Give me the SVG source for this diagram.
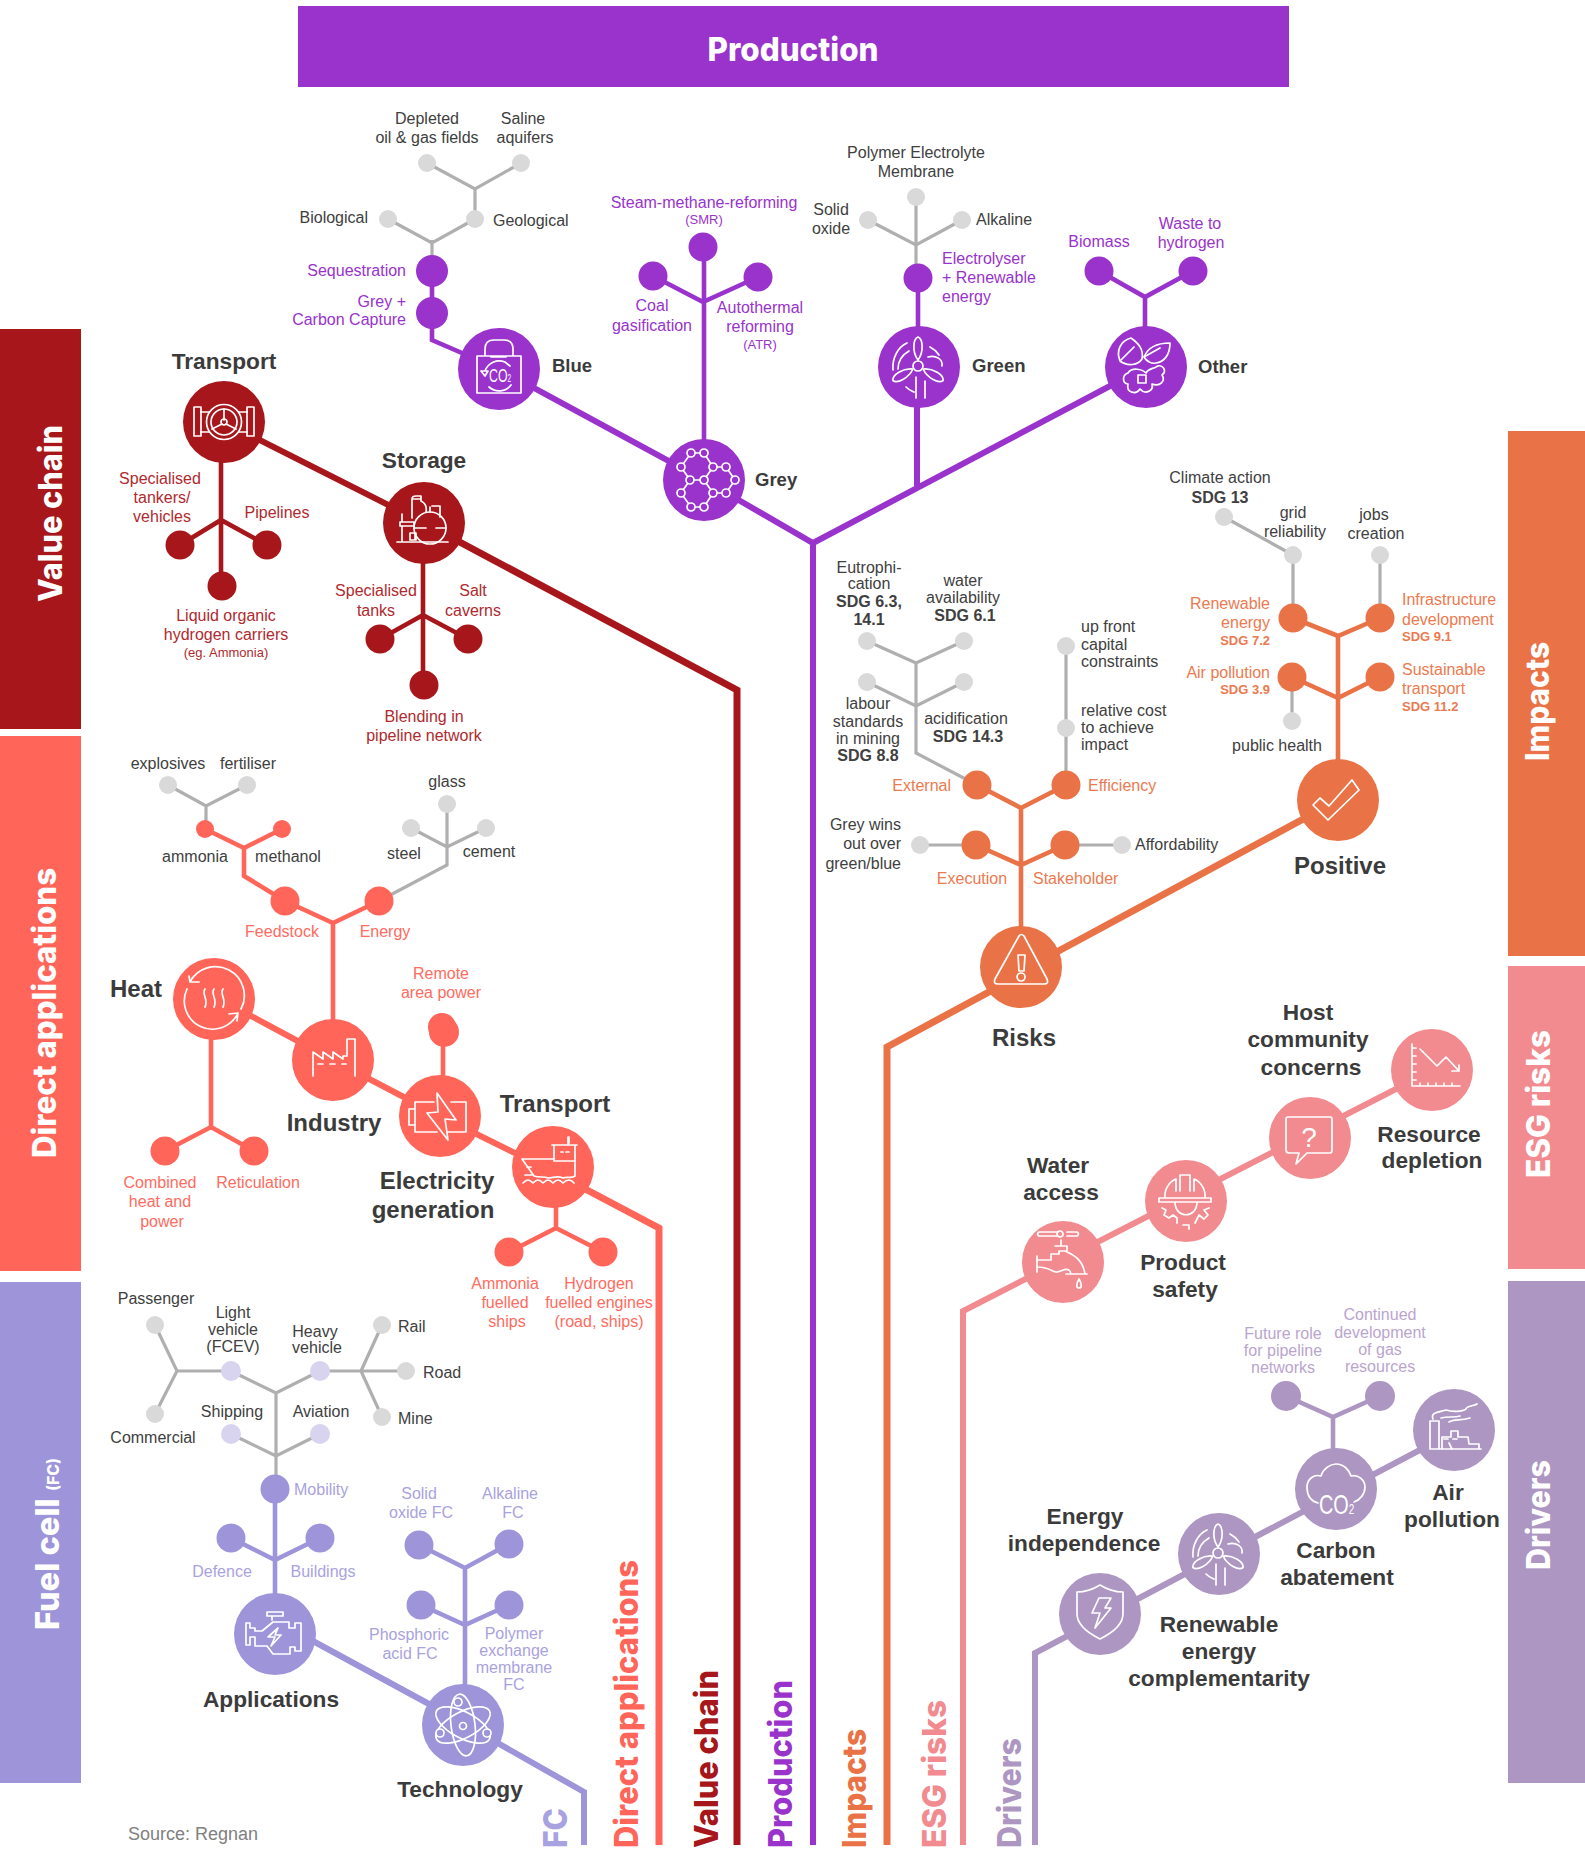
<svg xmlns="http://www.w3.org/2000/svg" width="1585" height="1850" viewBox="0 0 1585 1850">
<style>
text{font-family:"Liberation Sans",Arial,sans-serif;font-size:16px;fill:#404040}
.m{text-anchor:middle}.e{text-anchor:end}
.h{font-size:22.7px;font-weight:700;fill:#3b3b3b}
.h3{font-size:24px;font-weight:700;fill:#3b3b3b}
.h2{font-size:18.5px;font-weight:700;fill:#3b3b3b}
.b{font-weight:700}
.s{font-size:13px}
.d{font-family:Inter,"Open Sans",sans-serif;font-weight:800;font-size:33px}
.w{fill:#fff}
.tP{fill:#9933cc}.tV{fill:#b02a2e}.tD{fill:#ff6b60}.tF{fill:#a9a2e0}.tI{fill:#ec7a50}.tR{fill:#b9a5ce}.tS{fill:#808080}
.fP{fill:#9933cc}.fV{fill:#a6161a}.fD{fill:#ff6559}.fF{fill:#9d94d9}.fI{fill:#e97347}.fE{fill:#f28b90}.fR{fill:#ad96c2}.fG{fill:#d9d9d9}.fL{fill:#d8d4f0}
.l{fill:none;stroke-miterlimit:10}
.sP{stroke:#9933cc}.sV{stroke:#a6161a}.sD{stroke:#ff6559}.sF{stroke:#9d94d9}.sI{stroke:#e97347}.sE{stroke:#f28b90}.sR{stroke:#ad96c2}.sG{stroke:#afafaf;stroke-width:3.2}
.t7{stroke-width:7}.t6{stroke-width:6}.t5{stroke-width:4.6}
.ic{fill:none;stroke:#fff;stroke-width:1.7;stroke-linejoin:round;stroke-linecap:round}
.co{font-size:19px;fill:#fff;font-weight:400}
</style>
<defs>
<path id="blade" d="M0,-6C-6,-14 -5,-27 0,-29C5,-27 6,-14 0,-6Z"/>
<g id="i-wind" class="ic">
<circle cx="-1" cy="-1" r="5"/>
<use href="#blade" transform="translate(-1,-1)"/>
<use href="#blade" transform="translate(-1,-1) rotate(120)"/>
<use href="#blade" transform="translate(-1,-1) rotate(240)"/>
<path d="M-3,10V31M6,14V31M-26,3C-27,-9 -21,-20 -12,-24M-21,2C-21,-5 -17,-12 -10,-16M11,-20C15,-18 18,-15 20,-12M9,-10C17,-12 24,-8 23,-1M-13,20C-10,23 -7,24 -5,25"/>
</g>
</defs>

<g id="bands">
<rect class="fP" x="298" y="6" width="991" height="81"/>
<rect class="fV" x="0" y="329" width="81" height="400"/>
<rect class="fD" x="0" y="736" width="81" height="535"/>
<rect class="fF" x="0" y="1282" width="81" height="501"/>
<rect class="fI" x="1508" y="431" width="77" height="525"/>
<rect class="fE" x="1508" y="966" width="77" height="303"/>
<rect class="fR" x="1508" y="1281" width="77" height="502"/>
<text class="d w m" x="793" y="61" textLength="171" lengthAdjust="spacingAndGlyphs">Production</text>
<text class="d w" transform="translate(62,602) rotate(-90)" textLength="177" lengthAdjust="spacingAndGlyphs">Value chain</text>
<text class="d w" transform="translate(56,1158) rotate(-90)" textLength="290" lengthAdjust="spacingAndGlyphs">Direct applications</text>
<text class="d w" transform="translate(59,1630) rotate(-90)" textLength="172" lengthAdjust="spacingAndGlyphs">Fuel cell <tspan font-size="16">(FC)</tspan></text>
<text class="d w" transform="translate(1549,761) rotate(-90)" textLength="119" lengthAdjust="spacingAndGlyphs">Impacts</text>
<text class="d w" transform="translate(1550,1178) rotate(-90)" textLength="148" lengthAdjust="spacingAndGlyphs">ESG risks</text>
<text class="d w" transform="translate(1550,1570) rotate(-90)" textLength="110" lengthAdjust="spacingAndGlyphs">Drivers</text>
</g>

<g id="trunk-labels">
<text class="d tF" transform="translate(567,1848) rotate(-90)" textLength="40" lengthAdjust="spacingAndGlyphs">FC</text>
<text class="d tD" style="fill:#ff6559" transform="translate(638,1848) rotate(-90)" textLength="288" lengthAdjust="spacingAndGlyphs">Direct applications</text>
<text class="d fV" transform="translate(718,1848) rotate(-90)" textLength="178" lengthAdjust="spacingAndGlyphs">Value chain</text>
<text class="d tP" transform="translate(792,1848) rotate(-90)" textLength="168" lengthAdjust="spacingAndGlyphs">Production</text>
<text class="d fI" transform="translate(866,1848) rotate(-90)" textLength="119" lengthAdjust="spacingAndGlyphs">Impacts</text>
<text class="d fE" transform="translate(946,1848) rotate(-90)" textLength="148" lengthAdjust="spacingAndGlyphs">ESG risks</text>
<text class="d fR" transform="translate(1021,1848) rotate(-90)" textLength="110" lengthAdjust="spacingAndGlyphs">Drivers</text>
</g>

<g id="connectors">
<g class="l sG">
<path d="M432,271V240M388,219L432,243L475,219M475,219V188M427,163L475,189L521,163"/>
<path d="M916,278V197M868,220L916,245L962,220"/>
<path d="M168,785L206,806L247,785M206,806V829M379,901L447,865V804M411,828L447,847L486,828"/>
<path d="M155,1325L177,1371L155,1414M177,1371H231M231,1371L276,1393L320,1371M320,1371H406M382,1325L361,1371L382,1417M276,1393V1489M231,1434L276,1456L320,1434"/>
<path d="M1293,618V555L1224,517M1380,618V555M1292,677V721"/>
<path d="M867,641L916,663L964,641M916,663V753L977,785M867,682L916,706L964,682M1066,785V646M1065,845H1122M976,845H920"/>
</g>
<path class="l sP t6" d="M499,369L704,480L813,543L1146,367"/>
<path class="l sP t6" d="M813,540V1845"/>
<path class="l sP t6" d="M917,367V486"/>
<path class="l sP t5" d="M499,369L432,340V271M704,480V247M653,276L703,302L758,277M918,278V367M1099,271L1145,297L1193,271M1145,297V367"/>
<path class="l sV t6" d="M224,422L424,523"/>
<path class="l sV t7" d="M424,523L737,690V1845"/>
<path class="l sV t5" d="M221,422V586M180,545L221,520L267,545M423,523V685M380,639L423,615L468,639"/>
<path class="l sD t6" d="M214,996L333,1060L440,1116L553,1172"/>
<path class="l sD t7" d="M553,1172L659,1228V1845"/>
<path class="l sD t5" d="M211,999V1127M165,1151L211,1127L254,1151M443,1028V1116M556,1167V1228M509,1252L556,1228L603,1252M333,1060V923M285,901L333,923L379,901M285,901L244,876V848M205,829L244,848L282,829"/>
<path class="l sF t6" d="M300,1634L440,1710M480,1733L584,1792V1845"/>
<path class="l sF t5" d="M275,1634V1489M231,1538L275,1560L320,1538M465,1725V1568M419,1545L465,1568L509,1544M421,1605L465,1625L509,1605"/>
<path class="l sI t7" d="M1040,961L1320,810M1000,986L887,1047V1845"/>
<path class="l sI t5" d="M1021,967V808M977,785L1021,808L1066,785M976,845L1021,865L1065,845M1338,800V636M1293,618L1338,636L1380,618M1292,677L1338,698L1380,677"/>
<path class="l sE t6" d="M1433,1070L963,1311V1845"/>
<path class="l sR t6" d="M1454,1432L1035,1653V1845"/>
<path class="l sR t5" d="M1333,1489V1417M1286,1396L1333,1417L1380,1396"/>
</g>

<g id="gray-nodes" class="fG">
<circle cx="388" cy="219" r="9"/><circle cx="475" cy="219" r="9"/><circle cx="427" cy="163" r="9"/><circle cx="521" cy="163" r="9"/>
<circle cx="916" cy="197" r="9"/><circle cx="868" cy="220" r="9"/><circle cx="962" cy="220" r="9"/>
<circle cx="168" cy="785" r="9"/><circle cx="247" cy="785" r="9"/><circle cx="447" cy="804" r="9"/><circle cx="411" cy="828" r="9"/><circle cx="486" cy="828" r="9"/>
<circle cx="155" cy="1325" r="9"/><circle cx="155" cy="1414" r="9"/><circle cx="382" cy="1325" r="9"/><circle cx="406" cy="1371" r="9"/><circle cx="382" cy="1417" r="9"/>
<circle cx="1224" cy="517" r="9"/><circle cx="1293" cy="555" r="9"/><circle cx="1380" cy="555" r="9"/><circle cx="1292" cy="721" r="9"/>
<circle cx="867" cy="641" r="9"/><circle cx="964" cy="641" r="9"/><circle cx="867" cy="682" r="9"/><circle cx="964" cy="682" r="9"/>
<circle cx="1066" cy="646" r="9"/><circle cx="1066" cy="728" r="9"/><circle cx="1122" cy="845" r="9"/><circle cx="920" cy="845" r="9"/>
<circle class="fL" cx="231" cy="1371" r="10"/><circle class="fL" cx="320" cy="1371" r="10"/><circle class="fL" cx="231" cy="1434" r="10"/><circle class="fL" cx="320" cy="1434" r="10"/>
</g>

<g id="small-nodes">
<g class="fP"><circle cx="432" cy="271" r="16"/><circle cx="432" cy="313" r="16"/><circle cx="703" cy="247" r="14.5"/><circle cx="653" cy="276" r="14.5"/><circle cx="758" cy="277" r="14.5"/><circle cx="918" cy="278" r="14.5"/><circle cx="1099" cy="271" r="14.5"/><circle cx="1193" cy="271" r="14.5"/></g>
<g class="fV"><circle cx="180" cy="545" r="14.5"/><circle cx="267" cy="545" r="14.5"/><circle cx="222" cy="586" r="14.5"/><circle cx="380" cy="639" r="14.5"/><circle cx="468" cy="639" r="14.5"/><circle cx="424" cy="685" r="14.5"/></g>
<g class="fD"><circle cx="205" cy="829" r="9"/><circle cx="282" cy="829" r="9"/><circle cx="285" cy="901" r="14.5"/><circle cx="379" cy="901" r="14.5"/><circle cx="165" cy="1151" r="14.5"/><circle cx="254" cy="1151" r="14.5"/><circle cx="442" cy="1027" r="14"/><circle cx="444" cy="1032" r="15"/><circle cx="509" cy="1252" r="14.5"/><circle cx="603" cy="1252" r="14.5"/></g>
<g class="fF"><circle cx="275" cy="1489" r="14.5"/><circle cx="231" cy="1538" r="14.5"/><circle cx="320" cy="1538" r="14.5"/><circle cx="419" cy="1545" r="14.5"/><circle cx="509" cy="1544" r="14.5"/><circle cx="421" cy="1605" r="14.5"/><circle cx="509" cy="1605" r="14.5"/></g>
<g class="fI"><circle cx="1293" cy="618" r="14.5"/><circle cx="1380" cy="618" r="14.5"/><circle cx="1292" cy="677" r="14.5"/><circle cx="1380" cy="677" r="14.5"/><circle cx="977" cy="785" r="14.5"/><circle cx="1066" cy="785" r="14.5"/><circle cx="976" cy="845" r="14.5"/><circle cx="1065" cy="845" r="14.5"/></g>
<g class="fR"><circle cx="1286" cy="1396" r="15"/><circle cx="1380" cy="1396" r="15"/></g>
</g>

<g id="node-blue"><circle class="fP" cx="499" cy="369" r="41"/>
<g transform="translate(499,369)" class="ic"><path d="M-22,-13H22V24H-22ZM-14,-13V-20Q-14,-29 -5,-29H5Q14,-29 14,-20V-13M-8,-12H7M-14,2A15,15 0 0 1 6,-7L11,-3M-10,18A15,15 0 0 0 12,16M-18,2H-11L-14,7Z"/></g>
<text class="co" transform="translate(489,382) scale(.65,1)">CO<tspan font-size="10">2</tspan></text>
<text class="h2" x="552" y="372">Blue</text></g>

<g id="node-grey"><circle class="fP" cx="704" cy="480" r="41"/>
<g transform="translate(704,480)"><path class="ic" d="M-13,-27H0L9,-13L0,0H-14L-23,-13ZM9,-13H22L31,0L22,13H9L0,0M-14,0L-23,13L-13,27H0L9,13"/>
<g style="fill:#9933cc;stroke:#fff;stroke-width:1.7"><circle cx="-13" cy="-27" r="4"/><circle cx="0" cy="-27" r="4"/><circle cx="9" cy="-13" r="4"/><circle cx="0" cy="0" r="4"/><circle cx="-14" cy="0" r="4"/><circle cx="-23" cy="-13" r="4"/><circle cx="22" cy="-13" r="4"/><circle cx="31" cy="0" r="4"/><circle cx="22" cy="13" r="4"/><circle cx="9" cy="13" r="4"/><circle cx="-23" cy="13" r="4"/><circle cx="-13" cy="27" r="4"/><circle cx="0" cy="27" r="4"/></g></g>
<text class="h2" x="755" y="486">Grey</text></g>

<g id="node-green"><circle class="fP" cx="919" cy="367" r="41"/><use href="#i-wind" transform="translate(919,367)"/><text class="h2" x="972" y="372">Green</text></g>

<g id="node-other"><circle class="fP" cx="1146" cy="367" r="41"/>
<g transform="translate(1146,367)" class="ic"><path d="M-26,-6C-30,-16 -26,-26 -15,-29C-8,-24 -2,-18 -4,-8C-8,-2 -18,0 -26,-6ZM-26,-6L-12,-20M-2,-10C2,-20 12,-24 24,-24C24,-12 18,-5 10,-4C6,-3 1,-5 -2,-10ZM-2,-10L14,-19M-18,6C-24,8 -24,16 -18,17C-20,26 -10,28 -6,22C-1,28 8,24 6,17C14,20 20,14 16,8C22,4 16,-4 10,0C6,2 2,2 0,6C-4,2 -14,0 -18,6ZM-8,8H0V16H-8Z"/></g>
<text class="h2" x="1198" y="373">Other</text></g>

<g id="node-vc-transport"><circle class="fV" cx="224" cy="422" r="41"/>
<g transform="translate(224,422)" class="ic"><rect x="-30" y="-15" width="7" height="29"/><rect x="23" y="-15" width="7" height="29"/><circle r="17.5"/><circle r="13"/><path d="M-23,-10H-15M-23,10H-15M23,-10H15M23,10H15M0,-2V-13M-2,2L-12,7M2,2L12,7"/><circle r="3"/></g>
<text class="h m" x="224" y="369">Transport</text></g>

<g id="node-vc-storage"><circle class="fV" cx="424" cy="523" r="41"/>
<g transform="translate(424,523)" class="ic"><circle cx="6" cy="5" r="16"/><path d="M-27,19H24M-12,-5V-24H-3M-12,-24Q-12,-27 -8,-27H-3V-22M-3,-22C1,-20 3,-16 2,-11M6,-11V-16M16,-6V-17H8M-10,5H2M12,5H22M-22,-9V-1M-24,-1H-10V3H-24ZM-22,3V19M-8,10V17M-14,10H-9V17H-14Z"/></g>
<text class="h m" x="424" y="468">Storage</text></g>

<g id="node-heat"><circle class="fD" cx="214" cy="999" r="41"/>
<g transform="translate(214,998)" class="ic"><path d="M-24,-16A28,28 0 0 1 27,11M-25,-22L-24,-16L-15,-16M-27,-9A28,28 0 0 0 24,15M15,16L24,15L23,23"/><path d="M-9,-9C-13,-4 -5,1 -9,9M0,-9C-4,-4 4,1 0,9M9,-9C5,-4 13,1 9,9"/></g>
<text class="h3 m" x="136" y="997">Heat</text></g>

<g id="node-industry"><circle class="fD" cx="333" cy="1060" r="41"/>
<g transform="translate(333,1060)" class="ic"><path d="M-20,16V-8L-10,-1V-8L0,-1V-8L10,-1V-4H14V-21H22V16M-15,4H-10M-3,4H2M9,4H13"/></g>
<text class="h3 m" x="334" y="1131">Industry</text></g>

<g id="node-electricity"><circle class="fD" cx="440" cy="1116" r="41"/>
<g transform="translate(440,1116)" class="ic"><path d="M-6,-14H-25V16H-3M11,-14H26V16H7M-25,-7H-31V9H-25M-3,-23L16,4L5,3L8,24L-13,-3L-2,-4Z"/></g>
<text class="h3 m" x="437" y="1189">Electricity</text><text class="h3 m" x="433" y="1218">generation</text></g>

<g id="node-da-transport"><circle class="fD" cx="553" cy="1167" r="41"/>
<g transform="translate(553,1167)" class="ic"><path d="M-31,-8H1V-6H22V9C18,12 14,9 10,11C4,8 0,11 -5,11C-9,9 -14,11 -19,9ZM-26,0H-22M1,-8V-22H22V-6M8,-15H10M13,-15H16M-1,-22H24M15,-22V-30M16,-24V-30M-30,16C-26,12 -24,12 -20,16C-16,12 -14,12 -10,16C-6,12 -4,12 0,16C4,12 6,12 10,16C14,12 18,12 21,16M-28,8H-20"/></g>
<text class="h3 m" x="555" y="1112">Transport</text></g>

<g id="node-applications"><circle class="fF" cx="275" cy="1634" r="41"/>
<g transform="translate(275,1634)" class="ic"><path d="M-29,-11V11H-25V3H-20V12H-8L-2,20H15V13H20V17H26V-11H20V-6H14V-12H6L-2,-12L-13,-3H-20V-6H-25V-11ZM-3,-14V-17M-8,-22V-18H8V-22H-8M3,-6L-7,3H0L-4,12L6,1H0Z"/></g>
<text class="h m" x="271" y="1707">Applications</text></g>

<g id="node-technology"><circle class="fF" cx="463" cy="1725" r="41"/>
<g transform="translate(463,1725)" class="ic"><ellipse rx="30" ry="13" transform="rotate(28)"/><ellipse rx="30" ry="13" transform="rotate(-28)"/><ellipse rx="31" ry="12" transform="rotate(83)"/><circle cx="0" cy="1" r="3.5"/><circle cx="-5" cy="-23" r="4" style="fill:#9d94d9"/><circle cx="-23" cy="8" r="4" style="fill:#9d94d9"/><circle cx="24" cy="8" r="4" style="fill:#9d94d9"/></g>
<text class="h m" x="460" y="1797">Technology</text></g>

<g id="node-risks"><circle class="fI" cx="1021" cy="967" r="41"/>
<g transform="translate(1021,967)" class="ic"><path d="M-2,-31L-26,12Q-28,17 -23,17H23Q28,17 26,12L3,-31Q0,-34 -2,-31ZM-3,-12H4L3,4H-2ZM0,6A4,4 0 1 0 0.1,14A4,4 0 1 0 0,6Z"/></g>
<text class="h3 m" x="1024" y="1046">Risks</text></g>

<g id="node-positive"><circle class="fI" cx="1338" cy="800" r="41"/>
<path class="ic" transform="translate(1338,800)" d="M-25,5L-10,20L21,-10L14,-20L-9,6L-18,-2Z"/>
<text class="h3 m" x="1340" y="874">Positive</text></g>

<g id="node-water"><circle class="fE" cx="1063" cy="1262" r="41"/>
<g transform="translate(1063,1262)" class="ic"><path d="M-24,-30H-5M4,-30H14M-24,-26H-5M4,-26H14M-24,-30Q-27,-28 -24,-26M14,-30Q17,-28 14,-26M-2,-22V-16M-8,-16H4V-11M-26,-6V10M-26,-2H-12V-8H-4V-11H2C14,-6 20,0 22,12H8C6,3 -2,10 -6,10C-10,11 -12,5 -26,5M3,12H24M16,17C13,22 13,26 16,26C19,26 19,22 16,17Z"/><circle cx="-3" cy="-28" r="3"/></g></g>
<g id="node-product"><circle class="fE" cx="1186" cy="1201" r="41"/>
<g transform="translate(1186,1201)" class="ic"><path d="M-27,-3H25V1H-27ZM-21,-3C-22,-12 -16,-20 -10,-22V-10M19,-3C20,-12 14,-20 8,-22V-10M-6,-10V-26H4V-10M-11,1C-11,18 11,18 11,1M-24,7L-20,9L-22,14L-17,17L-13,14L-9,17V22M-3,24H3V28M9,22L13,14L18,18L22,14L18,9L23,7"/></g>
<text class="h m" x="1183" y="1270">Product</text><text class="h m" x="1185" y="1297">safety</text></g>
<g id="node-host"><circle class="fE" cx="1310" cy="1138" r="41"/>
<path class="ic" transform="translate(1310,1138)" d="M-22,-21H20Q22,-21 22,-19V12Q22,15 20,15H-3L-14,26L-11,15H-21Q-24,15 -24,12V-19Q-24,-21 -22,-21Z"/>
<text class="w m" x="1309" y="1147" style="font-size:28px">?</text>
<text class="h m" x="1308" y="1020">Host</text><text class="h m" x="1308" y="1047">community</text><text class="h m" x="1311" y="1075">concerns</text></g>
<g id="node-resource"><circle class="fE" cx="1432" cy="1070" r="41"/>
<path class="ic" transform="translate(1432,1070)" d="M-20,-26V16H28M-20,-22H-16M-20,-14H-16M-20,-6H-16M-20,2H-16M-20,10H-16M-12,16V13M-4,16V13M4,16V13M12,16V13M20,16V13M-12,-21L5,-4L14,-13L27,1M27,-5V1H20"/>
<text class="h m" x="1429" y="1142">Resource</text><text class="h m" x="1432" y="1168">depletion</text></g>
<g id="label-water"><text class="h m" x="1058" y="1173">Water</text><text class="h m" x="1061" y="1200">access</text></g>

<g id="node-shield"><circle class="fR" cx="1100" cy="1614" r="41"/>
<path class="ic" transform="translate(1100,1614)" d="M0,-29C-8,-24 -15,-22 -23,-22V0C-23,12 -10,20 0,25C10,20 23,12 23,0V-22C15,-22 8,-24 0,-29ZM-1,-16H11L5,-6H11L-5,14L0,-1H-8Z"/>
<text class="h m" x="1085" y="1524">Energy</text><text class="h m" x="1084" y="1551">independence</text></g>
<g id="node-renewable"><circle class="fR" cx="1219" cy="1554" r="41"/><use href="#i-wind" transform="translate(1219,1554)"/>
<text class="h m" x="1219" y="1632">Renewable</text><text class="h m" x="1219" y="1659">energy</text><text class="h m" x="1219" y="1686">complementarity</text></g>
<g id="node-carbon"><circle class="fR" cx="1336" cy="1489" r="41"/>
<path class="ic" transform="translate(1336,1489)" d="M-18,14C-26,12 -29,5 -29,-2C-29,-10 -22,-15 -15,-13C-13,-20 -6,-25 0,-25C8,-25 13,-19 15,-13C22,-15 29,-9 29,-2C29,5 24,11 18,13"/>
<text class="co" transform="translate(1319,1514) scale(.71,1)" style="font-size:28px">CO<tspan font-size="14">2</tspan></text>
<text class="h m" x="1336" y="1558">Carbon</text><text class="h m" x="1337" y="1585">abatement</text></g>
<g id="node-air"><circle class="fR" cx="1454" cy="1430" r="41"/>
<path class="ic" transform="translate(1454,1430)" d="M-23,19H27M-24,19V-9H-15V19M-21,-11C-24,-18 -14,-18 -8,-20C-2,-18 8,-18 12,-21C12,-24 20,-24 23,-26M-13,-12C-6,-14 0,-12 6,-14M-5,-8C0,-11 6,-9 16,-12M-12,19V7H-3V1H4V7H14L15,14H25V19M-10,9H-6M-1,9H3M-5,13L-2,19"/>
<text class="h m" x="1448" y="1500">Air</text><text class="h m" x="1452" y="1527">pollution</text></g>

<g id="labels-production">
<text class="m" x="427" y="124">Depleted</text><text class="m" x="427" y="143">oil &amp; gas fields</text>
<text class="m" x="523" y="124">Saline</text><text class="m" x="525" y="143">aquifers</text>
<text class="e" x="368" y="223">Biological</text><text x="493" y="226">Geological</text>
<text class="e tP" x="406" y="276">Sequestration</text><text class="e tP" x="406" y="307">Grey +</text><text class="e tP" x="406" y="325">Carbon Capture</text>
<text class="m tP" x="704" y="208">Steam-methane-reforming</text><text class="m tP s" x="704" y="224">(SMR)</text>
<text class="m tP" x="652" y="311">Coal</text><text class="m tP" x="652" y="331">gasification</text>
<text class="m tP" x="760" y="313">Autothermal</text><text class="m tP" x="760" y="332">reforming</text><text class="m tP s" x="760" y="349">(ATR)</text>
<text class="m" x="916" y="158">Polymer Electrolyte</text><text class="m" x="916" y="177">Membrane</text>
<text class="m" x="831" y="215">Solid</text><text class="m" x="831" y="234">oxide</text><text x="976" y="225">Alkaline</text>
<text class="tP" x="942" y="264">Electrolyser</text><text class="tP" x="942" y="283">+ Renewable</text><text class="tP" x="942" y="302">energy</text>
<text class="m tP" x="1099" y="247">Biomass</text><text class="m tP" x="1190" y="229">Waste to</text><text class="m tP" x="1191" y="248">hydrogen</text>
</g>
<g id="labels-value-chain">
<text class="m tV" x="160" y="484">Specialised</text><text class="m tV" x="162" y="503">tankers/</text><text class="m tV" x="162" y="522">vehicles</text>
<text class="m tV" x="277" y="518">Pipelines</text>
<text class="m tV" x="226" y="621">Liquid organic</text><text class="m tV" x="226" y="640">hydrogen carriers</text><text class="m tV s" x="226" y="657">(eg. Ammonia)</text>
<text class="m tV" x="376" y="596">Specialised</text><text class="m tV" x="376" y="616">tanks</text>
<text class="m tV" x="473" y="596">Salt</text><text class="m tV" x="473" y="616">caverns</text>
<text class="m tV" x="424" y="722">Blending in</text><text class="m tV" x="424" y="741">pipeline network</text>
</g>
<g id="labels-direct">
<text class="m" x="168" y="769">explosives</text><text class="m" x="248" y="769">fertiliser</text><text class="m" x="447" y="787">glass</text>
<text class="m" x="195" y="862">ammonia</text><text class="m" x="288" y="862">methanol</text><text class="m" x="404" y="859">steel</text><text class="m" x="489" y="857">cement</text>
<text class="m tD" x="282" y="937">Feedstock</text><text class="m tD" x="385" y="937">Energy</text>
<text class="m tD" x="441" y="979">Remote</text><text class="m tD" x="441" y="998">area power</text>
<text class="m tD" x="160" y="1188">Combined</text><text class="m tD" x="160" y="1207">heat and</text><text class="m tD" x="162" y="1227">power</text>
<text class="m tD" x="258" y="1188">Reticulation</text>
<text class="m tD" x="505" y="1289">Ammonia</text><text class="m tD" x="505" y="1308">fuelled</text><text class="m tD" x="507" y="1327">ships</text>
<text class="m tD" x="599" y="1289">Hydrogen</text><text class="m tD" x="599" y="1308">fuelled engines</text><text class="m tD" x="599" y="1327">(road, ships)</text>
</g>
<g id="labels-fuel-cell">
<text class="m" x="156" y="1304">Passenger</text><text class="m" x="153" y="1443">Commercial</text>
<text class="m" x="233" y="1318">Light</text><text class="m" x="233" y="1335">vehicle</text><text class="m" x="233" y="1352">(FCEV)</text>
<text class="m" x="315" y="1337">Heavy</text><text class="m" x="317" y="1353">vehicle</text>
<text x="398" y="1332">Rail</text><text x="423" y="1378">Road</text><text x="398" y="1424">Mine</text>
<text class="m" x="232" y="1417">Shipping</text><text class="m" x="321" y="1417">Aviation</text>
<text class="tF" x="294" y="1495">Mobility</text>
<text class="m tF" x="222" y="1577">Defence</text><text class="m tF" x="323" y="1577">Buildings</text>
<text class="m tF" x="419" y="1499">Solid</text><text class="m tF" x="421" y="1518">oxide FC</text>
<text class="m tF" x="510" y="1499">Alkaline</text><text class="m tF" x="513" y="1518">FC</text>
<text class="m tF" x="409" y="1640">Phosphoric</text><text class="m tF" x="410" y="1659">acid FC</text>
<text class="m tF" x="514" y="1639">Polymer</text><text class="m tF" x="514" y="1656">exchange</text><text class="m tF" x="514" y="1673">membrane</text><text class="m tF" x="514" y="1690">FC</text>
<text class="tS" x="128" y="1840" style="font-size:18px">Source: Regnan</text>
</g>
<g id="labels-impacts">
<text class="m" x="1220" y="483">Climate action</text><text class="m b" x="1220" y="503">SDG 13</text>
<text class="m" x="1293" y="518">grid</text><text class="m" x="1295" y="537">reliability</text>
<text class="m" x="1374" y="520">jobs</text><text class="m" x="1376" y="539">creation</text>
<text class="e tI" x="1270" y="609">Renewable</text><text class="e tI" x="1270" y="628">energy</text><text class="e tI b s" x="1270" y="645">SDG 7.2</text>
<text class="tI" x="1402" y="605">Infrastructure</text><text class="tI" x="1402" y="625">development</text><text class="tI b s" x="1402" y="641">SDG 9.1</text>
<text class="e tI" x="1270" y="678">Air pollution</text><text class="e tI b s" x="1270" y="694">SDG 3.9</text>
<text class="tI" x="1402" y="675">Sustainable</text><text class="tI" x="1402" y="694">transport</text><text class="tI b s" x="1402" y="711">SDG 11.2</text>
<text class="m" x="1277" y="751">public health</text>
<text x="1081" y="632">up front</text><text x="1081" y="650">capital</text><text x="1081" y="667">constraints</text>
<text x="1081" y="716">relative cost</text><text x="1081" y="733">to achieve</text><text x="1081" y="750">impact</text>
<text class="tI" x="1088" y="791">Efficiency</text><text x="1135" y="850">Affordability</text><text class="tI" x="1033" y="884">Stakeholder</text>
<text class="m" x="869" y="573">Eutrophi-</text><text class="m" x="869" y="589">cation</text><text class="m b" x="869" y="607">SDG 6.3,</text><text class="m b" x="869" y="625">14.1</text>
<text class="m" x="963" y="586">water</text><text class="m" x="963" y="603">availability</text><text class="m b" x="965" y="621">SDG 6.1</text>
<text class="m" x="868" y="709">labour</text><text class="m" x="868" y="727">standards</text><text class="m" x="868" y="744">in mining</text><text class="m b" x="868" y="761">SDG 8.8</text>
<text class="m" x="966" y="724">acidification</text><text class="m b" x="968" y="742">SDG 14.3</text>
<text class="e tI" x="951" y="791">External</text>
<text class="e" x="901" y="830">Grey wins</text><text class="e" x="901" y="849">out over</text><text class="e" x="901" y="869">green/blue</text>
<text class="m tI" x="972" y="884">Execution</text>
</g>
<g id="labels-drivers">
<text class="m tR" x="1283" y="1339">Future role</text><text class="m tR" x="1283" y="1356">for pipeline</text><text class="m tR" x="1283" y="1373">networks</text>
<text class="m tR" x="1380" y="1320">Continued</text><text class="m tR" x="1380" y="1338">development</text><text class="m tR" x="1380" y="1355">of gas</text><text class="m tR" x="1380" y="1372">resources</text>
</g>
</svg>
